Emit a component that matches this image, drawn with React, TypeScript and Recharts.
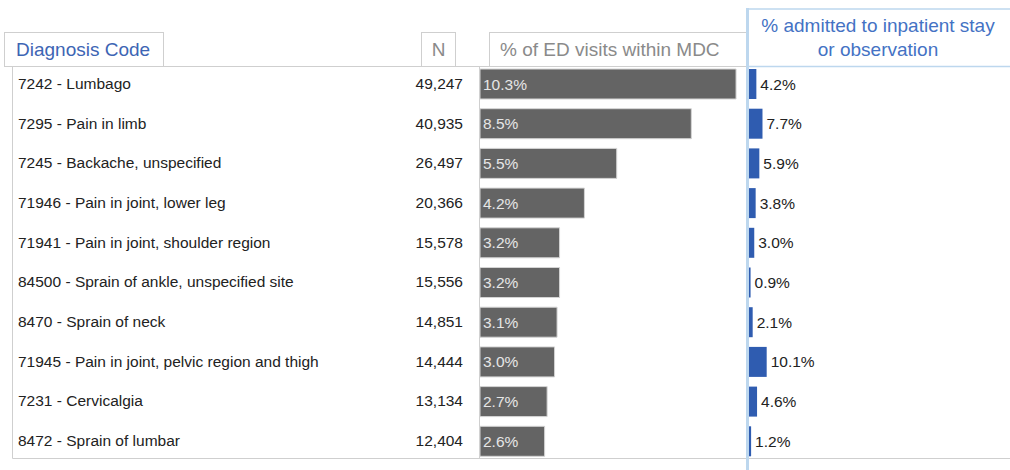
import React from "react";
import { BarChart, Bar, XAxis, YAxis, LabelList } from "recharts";

const diagnoses = [
  "7242 - Lumbago",
  "7295 - Pain in limb",
  "7245 - Backache, unspecified",
  "71946 - Pain in joint, lower leg",
  "71941 - Pain in joint, shoulder region",
  "84500 - Sprain of ankle, unspecified site",
  "8470 - Sprain of neck",
  "71945 - Pain in joint, pelvic region and thigh",
  "7231 - Cervicalgia",
  "8472 - Sprain of lumbar",
];
const visitCounts = [49247, 40935, 26497, 20366, 15578, 15556, 14851, 14444, 13134, 12404];
const edShare = [10.3, 8.5, 5.5, 4.2, 3.2, 3.2, 3.1, 3.0, 2.7, 2.6];
const admittedShare = [4.2, 7.7, 5.9, 3.8, 3.0, 0.9, 2.1, 10.1, 4.6, 1.2];

const headers = {
  code: "Diagnosis Code",
  n: "N",
  ed: "% of ED visits within MDC",
  admitted: ["% admitted to inpatient stay", "or observation"],
};

const data = diagnoses.map((name, i) => ({
  name,
  n: visitCounts[i],
  ed: edShare[i],
  adm: admittedShare[i],
}));

const FONT = "'Liberation Sans', Arial, sans-serif";
const W = 1010;
const H = 470;
const TOP = 64;
const BOTTOM = 9;

const RowTick = (props: any) => {
  const { y, payload } = props;
  const idx = payload.index;
  return (
    <g>
      <text x={18} y={y} dy={5} fontSize={15.5} fill="#222" fontFamily={FONT} textAnchor="start">
        {payload.value}
      </text>
      <text x={463} y={y} dy={5} fontSize={15.5} fill="#222" fontFamily={FONT} textAnchor="end">
        {visitCounts[idx].toLocaleString("en-US")}
      </text>
    </g>
  );
};

export default function App() {
  return (
    <div
      style={{
        position: "absolute",
        left: 0,
        top: 0,
        width: W,
        height: H,
        background: "#fff",
        fontFamily: FONT,
        overflow: "hidden",
      }}
    >
      {/* table frame & headers */}
      <svg width={W} height={H} style={{ position: "absolute", left: 0, top: 0 }}>
        {/* Diagnosis Code header box */}
        <rect x={4.5} y={32.5} width={159} height={34} fill="#fff" stroke="#cfcfcf" />
        <text x={16} y={56} fontSize={19} fill="#3d65b4" fontFamily={FONT}>
          {headers.code}
        </text>
        {/* N header */}
        <rect x={421.5} y={32.5} width={34} height={34} fill="#fff" stroke="#cfcfcf" />
        <text x={438.5} y={56} fontSize={19} fill="#8a8a8a" fontFamily={FONT} textAnchor="middle">
          {headers.n}
        </text>
        {/* ED header */}
        <rect x={489.5} y={32.5} width={258} height={34} fill="#fff" stroke="#cfcfcf" />
        <text x={500} y={56} fontSize={19} fill="#8a8a8a" fontFamily={FONT}>
          {headers.ed}
        </text>
        {/* table body frame */}
        <line x1={12.5} y1={66.5} x2={W} y2={66.5} stroke="#cfcfcf" />
        <line x1={12.5} y1={66.5} x2={12.5} y2={458.5} stroke="#cfcfcf" />
        <line x1={12.5} y1={458.5} x2={W} y2={458.5} stroke="#cfcfcf" />
        <line x1={479.5} y1={66.5} x2={479.5} y2={458.5} stroke="#cfcfcf" />
        {/* admitted header */}
        <rect x={747.5} y={9} width={270} height={57.5} fill="#fff" stroke="#bdd7ee" strokeWidth={1.5} />
        <line x1={747.5} y1={8} x2={747.5} y2={H} stroke="#bdd7ee" strokeWidth={3} />
        <text x={878} y={32} fontSize={19} fill="#4472c4" fontFamily={FONT} textAnchor="middle">
          {headers.admitted[0]}
        </text>
        <text x={878} y={56} fontSize={19} fill="#4472c4" fontFamily={FONT} textAnchor="middle">
          {headers.admitted[1]}
        </text>
      </svg>

      {/* ED share bars + row labels */}
      <div style={{ position: "absolute", left: 0, top: 0 }}>
        <BarChart
          width={W}
          height={H}
          data={data}
          layout="vertical"
          margin={{ top: TOP, bottom: BOTTOM, left: 0, right: 265 }}
          barCategoryGap={0}
        >
          <XAxis type="number" domain={[0, 10.66]} hide />
          <YAxis
            type="category"
            dataKey="name"
            width={480}
            axisLine={false}
            tickLine={false}
            tick={<RowTick />}
            interval={0}
          />
          <Bar dataKey="ed" fill="#646464" stroke="#d4d4d4" strokeWidth={1} barSize={30} isAnimationActive={false}>
            <LabelList
              dataKey="ed"
              position="insideLeft"
              offset={3}
              formatter={(v: any) => `${Number(v).toFixed(1)}%`}
              style={{ fill: "#e6e6e6", fontSize: 15.5, fontFamily: FONT }}
            />
          </Bar>
        </BarChart>
      </div>

      {/* admitted share bars */}
      <div style={{ position: "absolute", left: 0, top: 0 }}>
        <BarChart
          width={W}
          height={H}
          data={data}
          layout="vertical"
          margin={{ top: TOP, bottom: BOTTOM, left: 749, right: 0 }}
          barCategoryGap={0}
        >
          <XAxis type="number" domain={[0, 149]} hide />
          <YAxis type="category" dataKey="name" hide />
          <Bar dataKey="adm" fill="#2f5cb0" barSize={30} isAnimationActive={false}>
            <LabelList
              dataKey="adm"
              position="right"
              offset={4}
              formatter={(v: any) => `${Number(v).toFixed(1)}%`}
              style={{ fill: "#222", fontSize: 15.5, fontFamily: FONT }}
            />
          </Bar>
        </BarChart>
      </div>
    </div>
  );
}
